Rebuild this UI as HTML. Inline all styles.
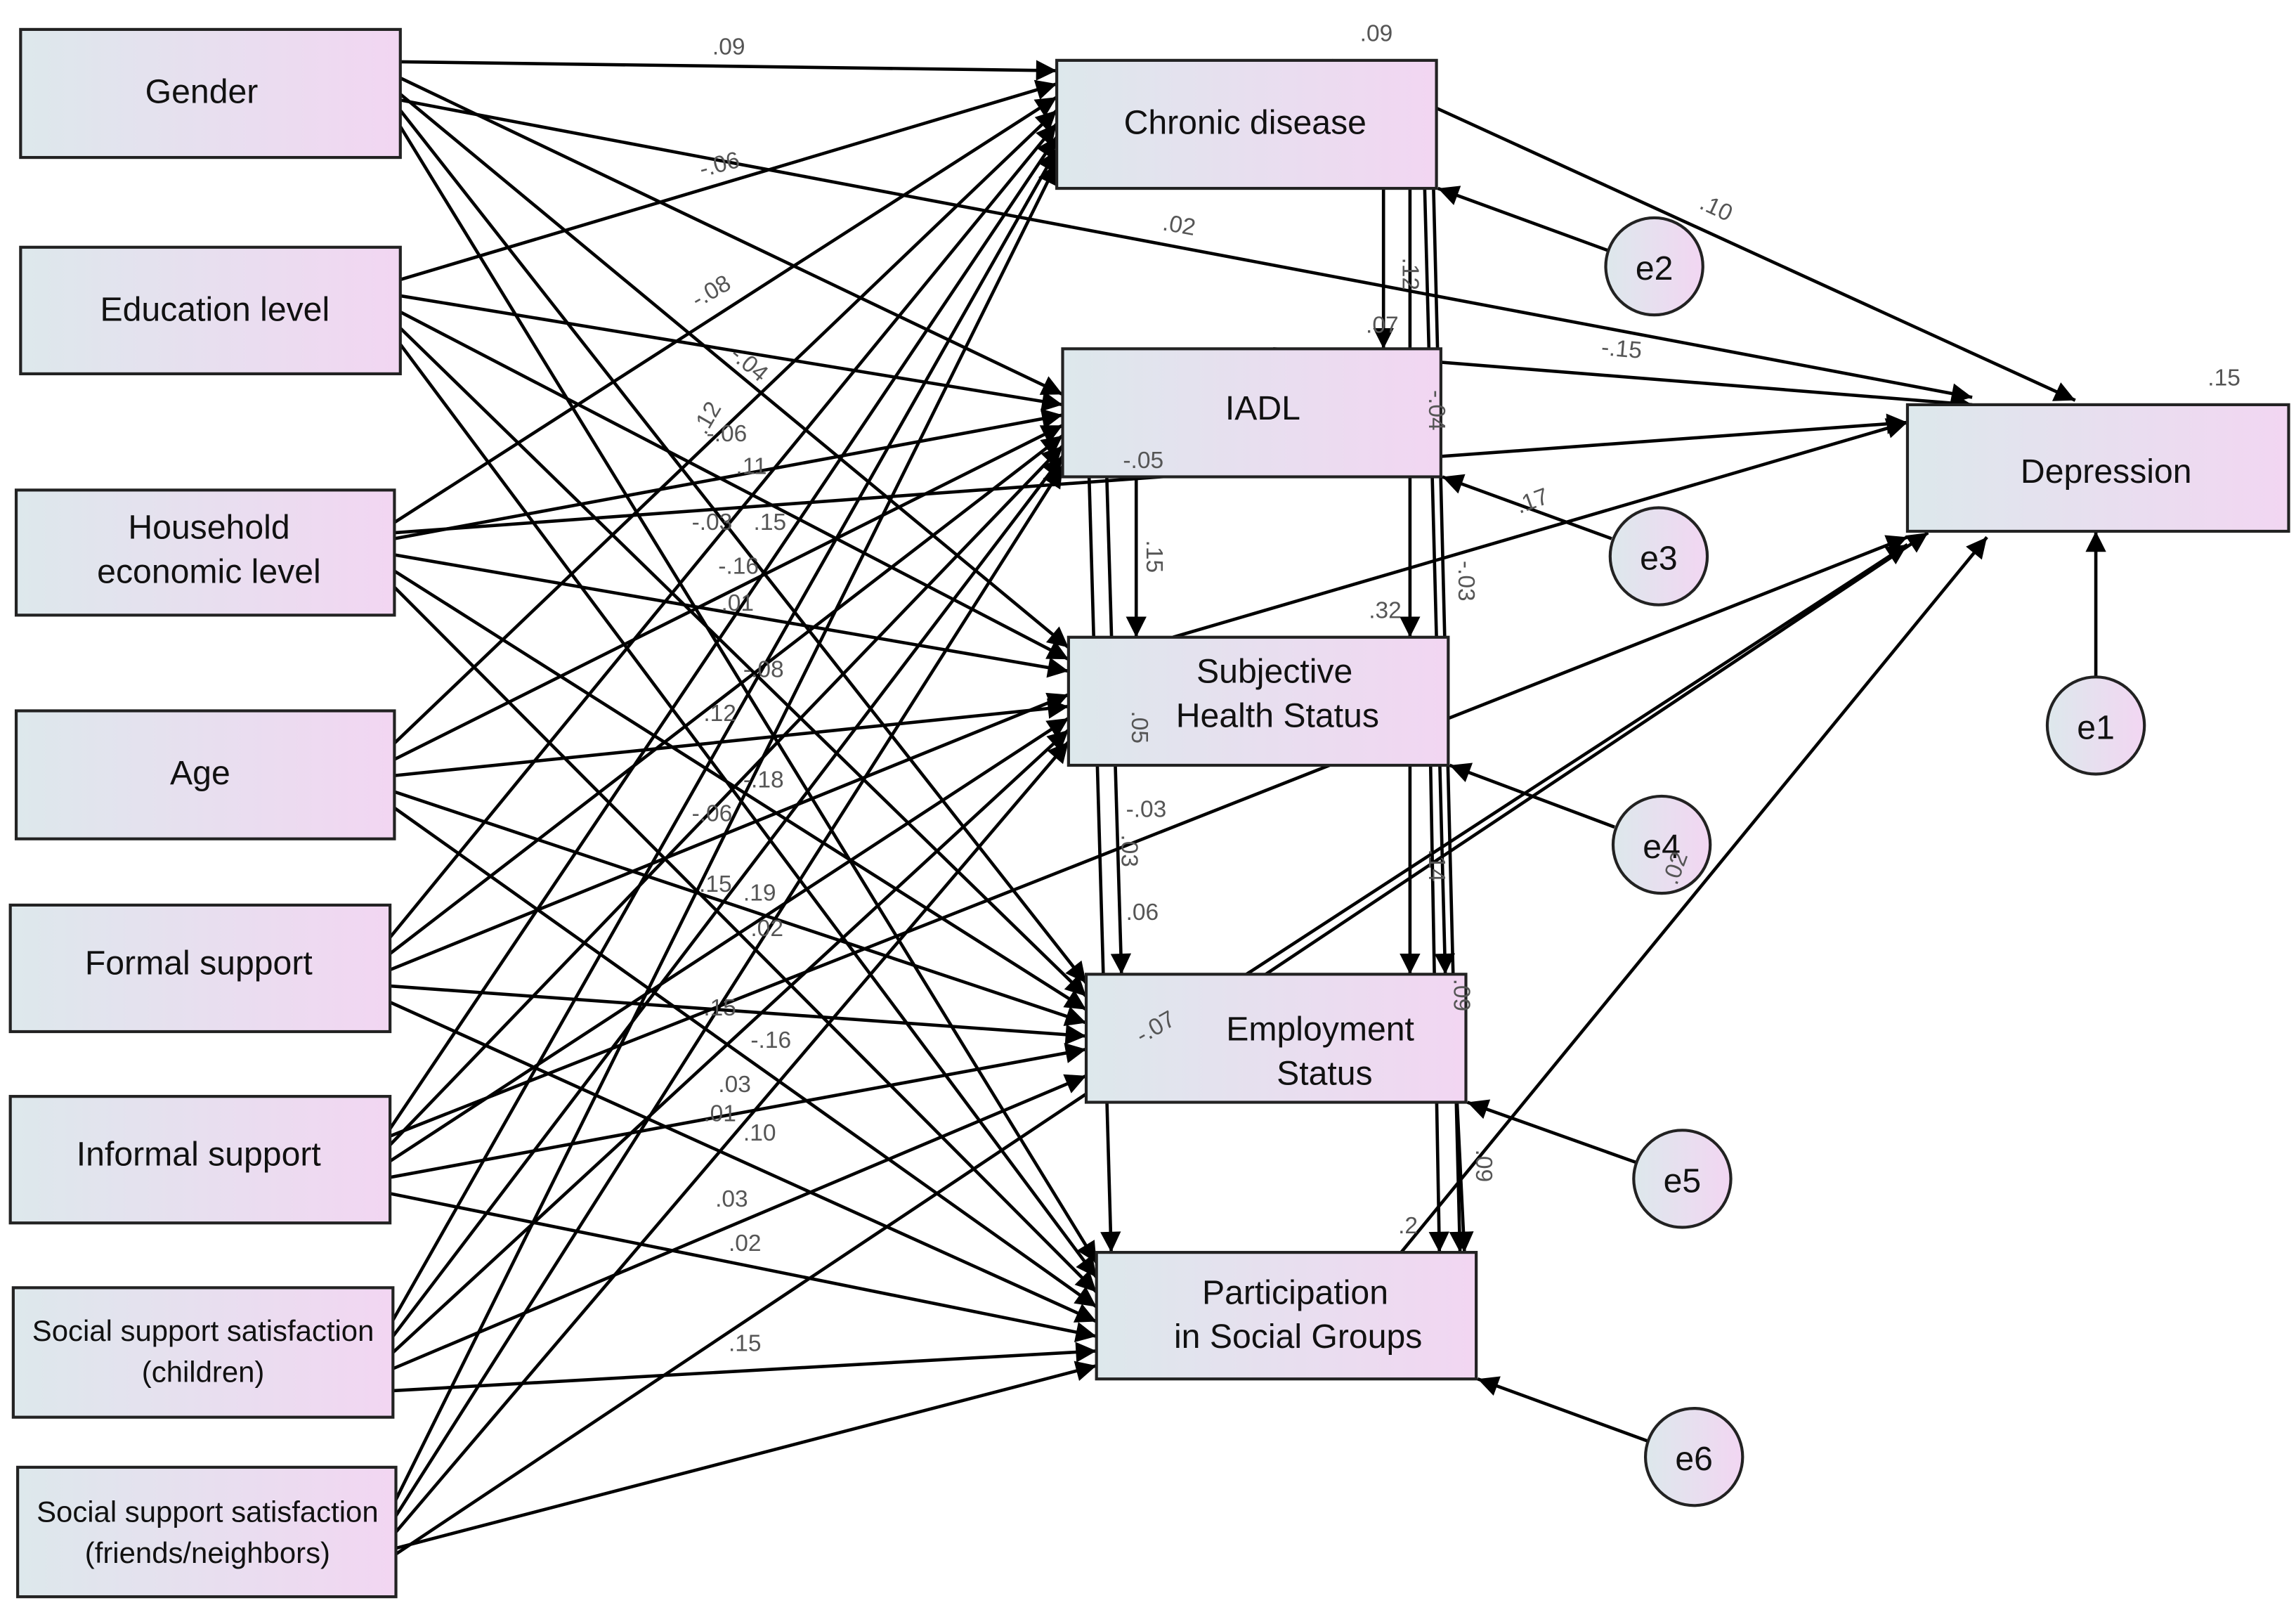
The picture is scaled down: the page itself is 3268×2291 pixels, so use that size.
<!DOCTYPE html>
<html><head><meta charset="utf-8"><style>
html,body{margin:0;padding:0;background:#fff;}
svg{display:block;}
text{font-family:"Liberation Sans",sans-serif;}
.bt{font-size:23px;fill:#111;text-anchor:middle;}
.lb{font-size:16px;fill:#555;}
</style></head><body>
<svg width="3268" height="2291" viewBox="0 0 1560 1094" preserveAspectRatio="none" xmlns="http://www.w3.org/2000/svg">
<defs>
<linearGradient id="g" x1="0" x2="1" y1="0" y2="0"><stop offset="0" stop-color="#dde8ec"/><stop offset="1" stop-color="#f2d6f2"/></linearGradient>
<marker id="a" viewBox="0 0 10 10" refX="10" refY="5" markerWidth="22" markerHeight="14" orient="auto" markerUnits="userSpaceOnUse"><path d="M0,0L10,5L0,10z" fill="#000"/></marker>
<style>line{stroke:#000;stroke-width:2.2;marker-end:url(#a);}</style>
</defs>
<g>
<line x1="272" y1="42" x2="718" y2="48"/>
<line x1="272" y1="53" x2="722" y2="268"/>
<line x1="272" y1="64" x2="726" y2="440"/>
<line x1="272" y1="75" x2="738" y2="668"/>
<line x1="272" y1="86" x2="745" y2="858"/>
<line x1="272" y1="68" x2="1340" y2="270"/>
<line x1="272" y1="190" x2="718" y2="57"/>
<line x1="272" y1="201" x2="722" y2="275"/>
<line x1="272" y1="212" x2="726" y2="448"/>
<line x1="272" y1="223" x2="738" y2="677"/>
<line x1="272" y1="234" x2="745" y2="868"/>
<line x1="268" y1="355" x2="718" y2="66"/>
<line x1="268" y1="366" x2="722" y2="282"/>
<line x1="268" y1="377" x2="726" y2="456"/>
<line x1="268" y1="388" x2="738" y2="686"/>
<line x1="268" y1="399" x2="745" y2="878"/>
<line x1="268" y1="362" x2="1296" y2="287"/>
<line x1="268" y1="505" x2="718" y2="75"/>
<line x1="268" y1="516" x2="722" y2="289"/>
<line x1="268" y1="527" x2="726" y2="480"/>
<line x1="268" y1="538" x2="738" y2="695"/>
<line x1="268" y1="549" x2="745" y2="888"/>
<line x1="265" y1="637" x2="718" y2="84"/>
<line x1="265" y1="648" x2="722" y2="296"/>
<line x1="265" y1="659" x2="726" y2="472"/>
<line x1="265" y1="670" x2="738" y2="704"/>
<line x1="265" y1="681" x2="745" y2="898"/>
<line x1="265" y1="767" x2="718" y2="93"/>
<line x1="265" y1="778" x2="722" y2="303"/>
<line x1="265" y1="789" x2="726" y2="488"/>
<line x1="265" y1="800" x2="738" y2="713"/>
<line x1="265" y1="811" x2="745" y2="908"/>
<line x1="265" y1="772" x2="1296" y2="365"/>
<line x1="267" y1="897" x2="718" y2="102"/>
<line x1="267" y1="908" x2="722" y2="310"/>
<line x1="267" y1="919" x2="726" y2="496"/>
<line x1="267" y1="930" x2="738" y2="731"/>
<line x1="267" y1="945" x2="745" y2="918"/>
<line x1="269" y1="1019" x2="718" y2="111"/>
<line x1="269" y1="1030" x2="722" y2="317"/>
<line x1="269" y1="1041" x2="726" y2="504"/>
<line x1="269" y1="1052" x2="745" y2="928"/>
<line x1="269" y1="1056" x2="1310" y2="362"/>
<line x1="905" y1="41" x2="1410" y2="272"/>
<line x1="865" y1="237" x2="1340" y2="275"/>
<line x1="797" y1="433" x2="1296" y2="287"/>
<line x1="770" y1="712" x2="1296" y2="370"/>
<line x1="952" y1="851" x2="1350" y2="365"/>
<line x1="940" y1="128" x2="940" y2="237"/>
<line x1="958" y1="128" x2="958" y2="433"/>
<line x1="968" y1="128" x2="982" y2="662"/>
<line x1="974" y1="128" x2="992" y2="851"/>
<line x1="772" y1="324" x2="772" y2="433"/>
<line x1="752" y1="324" x2="762" y2="662"/>
<line x1="740" y1="324" x2="755" y2="851"/>
<line x1="958" y1="520" x2="958" y2="662"/>
<line x1="972" y1="520" x2="978" y2="851"/>
<line x1="990" y1="749" x2="995" y2="851"/>
<line x1="1092" y1="170" x2="977" y2="128"/>
<line x1="1095" y1="366" x2="980" y2="324"/>
<line x1="1097" y1="562" x2="985" y2="520"/>
<line x1="1112" y1="790" x2="997" y2="749"/>
<line x1="1119" y1="979" x2="1004" y2="937"/>
<line x1="1424" y1="460" x2="1424" y2="361"/>
</g>
<g stroke="#222" stroke-width="2" fill="url(#g)">
<rect x="14" y="20" width="258" height="87"/>
<rect x="14" y="168" width="258" height="86"/>
<rect x="11" y="333" width="257" height="85"/>
<rect x="11" y="483" width="257" height="87"/>
<rect x="7" y="615" width="258" height="86"/>
<rect x="7" y="745" width="258" height="86"/>
<rect x="9" y="875" width="258" height="88"/>
<rect x="12" y="997" width="257" height="88"/>
<rect x="718" y="41" width="258" height="87"/>
<rect x="722" y="237" width="257" height="87"/>
<rect x="726" y="433" width="258" height="87"/>
<rect x="738" y="662" width="258" height="87"/>
<rect x="745" y="851" width="258" height="86"/>
<rect x="1296" y="275" width="259" height="86"/>
<circle cx="1124" cy="181" r="33"/>
<circle cx="1127" cy="378" r="33"/>
<circle cx="1129" cy="574" r="33"/>
<circle cx="1143" cy="801" r="33"/>
<circle cx="1151" cy="990" r="33"/>
<circle cx="1424" cy="493" r="33"/>
</g>
<g class="bt">
<text x="137" y="70">Gender</text>
<text x="146" y="218">Education level</text>
<text x="142" y="366">Household</text>
<text x="142" y="396">economic level</text>
<text x="136" y="533">Age</text>
<text x="135" y="662">Formal support</text>
<text x="135" y="792">Informal support</text>
<text x="138" y="911" style="font-size:20px">Social support satisfaction</text>
<text x="138" y="939" style="font-size:20px">(children)</text>
<text x="141" y="1034" style="font-size:20px">Social support satisfaction</text>
<text x="141" y="1062" style="font-size:20px">(friends/neighbors)</text>
<text x="846" y="91">Chronic disease</text>
<text x="858" y="285">IADL</text>
<text x="866" y="464">Subjective</text>
<text x="868" y="494">Health Status</text>
<text x="897" y="707">Employment</text>
<text x="900" y="737">Status</text>
<text x="880" y="886">Participation</text>
<text x="882" y="916">in Social Groups</text>
<text x="1431" y="328">Depression</text>
<text x="1124" y="190">e2</text>
<text x="1127" y="387">e3</text>
<text x="1129" y="583">e4</text>
<text x="1143" y="810">e5</text>
<text x="1151" y="999">e6</text>
<text x="1424" y="502">e1</text>
</g>
<g class="lb">
<text x="484" y="37">.09</text>
<text x="924" y="28">.09</text>
<text x="1500" y="262">.15</text>
<text x="475" y="118" transform="rotate(-15 485 112)">-.06</text>
<text x="790" y="158" transform="rotate(10 800 153)">.02</text>
<text x="470" y="205" transform="rotate(-30 480 200)">-.08</text>
<text x="496" y="250" transform="rotate(40 506 245)">-.04</text>
<text x="1155" y="146" transform="rotate(25 1165 141)">.10</text>
<text x="1088" y="242" transform="rotate(5 1098 237)">-.15</text>
<text x="928" y="226">.07</text>
<text x="948" y="190" transform="rotate(90 958 185)">.12</text>
<text x="763" y="318">-.05</text>
<text x="1030" y="346" transform="rotate(-20 1040 341)">.17</text>
<text x="774" y="382" transform="rotate(90 784 377)">.15</text>
<text x="930" y="420">.32</text>
<text x="966" y="280" transform="rotate(90 976 275)">-.04</text>
<text x="986" y="396" transform="rotate(90 996 391)">-.03</text>
<text x="470" y="290" transform="rotate(-60 480 285)">.12</text>
<text x="480" y="300">-.06</text>
<text x="500" y="322">.11</text>
<text x="470" y="360">-.03</text>
<text x="488" y="390">-.16</text>
<text x="512" y="360">.15</text>
<text x="490" y="415">.01</text>
<text x="505" y="460">-.08</text>
<text x="478" y="490">.12</text>
<text x="505" y="535">-.18</text>
<text x="470" y="558">-.06</text>
<text x="475" y="606">.15</text>
<text x="505" y="612">.19</text>
<text x="510" y="636">.02</text>
<text x="478" y="690">.15</text>
<text x="510" y="712">-.16</text>
<text x="488" y="742">.03</text>
<text x="478" y="762">.01</text>
<text x="505" y="775">.10</text>
<text x="486" y="820">.03</text>
<text x="495" y="850">.02</text>
<text x="495" y="918">.15</text>
<text x="765" y="555">-.03</text>
<text x="764" y="498" transform="rotate(90 774 493)">.05</text>
<text x="757" y="582" transform="rotate(90 767 577)">.03</text>
<text x="765" y="625">.06</text>
<text x="772" y="705" transform="rotate(-30 782 700)">-.07</text>
<text x="966" y="592" transform="rotate(90 976 587)">.14</text>
<text x="983" y="680" transform="rotate(90 993 675)">.09</text>
<text x="998" y="796" transform="rotate(90 1008 791)">.09</text>
<text x="1128" y="596" transform="rotate(-70 1138 591)">.02</text>
<text x="950" y="838">.2</text>
</g>
</svg>
</body></html>
